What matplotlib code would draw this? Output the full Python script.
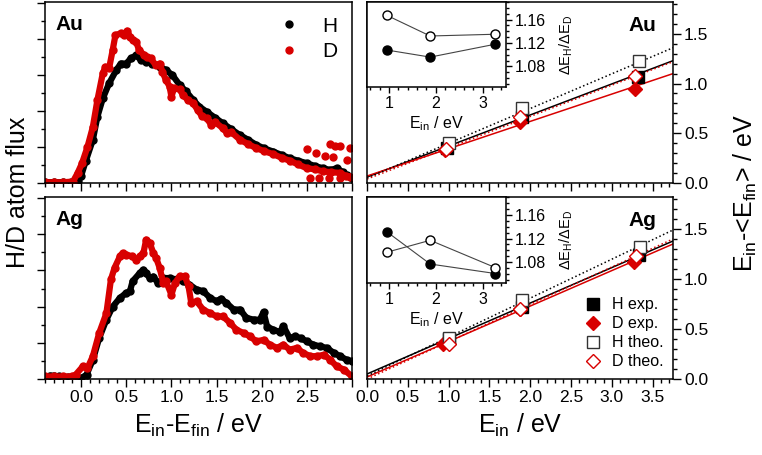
import numpy as np
import matplotlib.pyplot as plt
from matplotlib.ticker import MultipleLocator, FormatStrFormatter
from matplotlib.lines import Line2D

plt.rcParams['font.family'] = ['Liberation Sans', 'DejaVu Sans']
plt.rcParams['mathtext.fontset'] = 'custom'
plt.rcParams['mathtext.rm'] = 'Liberation Sans'
plt.rcParams['mathtext.it'] = 'Liberation Sans:italic'
plt.rcParams['axes.linewidth'] = 1.1

RED = '#d80000'

# ---- energy loss spectra (left) ----
au_h_e = [-0.40, -0.30, -0.20, -0.11, -0.04, 0.00, 0.05, 0.13, 0.18, 0.24, 0.31, 0.39, 0.44, 0.50,
          0.55, 0.61, 0.66, 0.72, 0.79, 0.87, 0.94, 1.01, 1.09, 1.16, 1.24, 1.31, 1.39, 1.48,
          1.57, 1.66, 1.76, 1.85, 1.94, 2.03, 2.13, 2.22, 2.31, 2.40, 2.50, 2.59, 2.68, 2.76,
          2.83, 2.90, 2.94, 3.00]
au_h_v = [0.02, 0.02, 0.02, 0.02, 0.05, 0.20, 0.60, 1.20, 1.84, 2.35, 2.77, 3.14, 3.32, 3.32,
          3.46, 3.55, 3.42, 3.37, 3.32, 3.23, 3.14, 3.00, 2.73, 2.55, 2.31, 2.12, 1.98, 1.82,
          1.66, 1.50, 1.33, 1.20, 1.06, 0.96, 0.87, 0.78, 0.69, 0.62, 0.55, 0.47, 0.41, 0.36,
          0.41, 0.30, 0.22, 0.15]

au_d_e = [-0.40, -0.30, -0.20, -0.09, -0.04, 0.01, 0.07, 0.13, 0.18, 0.24, 0.27, 0.31, 0.35, 0.38,
          0.44, 0.48, 0.51, 0.54, 0.57, 0.61, 0.64, 0.70, 0.73, 0.77, 0.83, 0.87, 0.90, 0.94,
          0.98, 1.00, 1.03, 1.09, 1.13, 1.18, 1.24, 1.29, 1.34, 1.39, 1.44, 1.48, 1.57, 1.62,
          1.66, 1.76, 1.85, 1.94, 2.03, 2.13, 2.22, 2.31, 2.40, 2.50, 2.59, 2.68, 2.77, 2.87,
          2.93, 2.98]
au_d_v = [0.02, 0.02, 0.02, 0.04, 0.27, 0.55, 1.00, 1.56, 2.30, 3.05, 3.23, 3.19, 3.70, 4.11,
          4.16, 4.11, 4.23, 4.07, 3.98, 3.93, 3.70, 3.55, 3.50, 3.46, 3.27, 3.32, 3.09, 2.86,
          2.68, 2.40, 2.64, 2.60, 2.44, 2.31, 2.22, 2.03, 1.85, 1.80, 1.62, 1.70, 1.52, 1.38,
          1.42, 1.20, 1.08, 0.97, 0.88, 0.80, 0.70, 0.62, 0.52, 0.41, 0.38, 0.32, 0.30, 0.28,
          0.20, 0.18]
au_d_out_e = [2.50, 2.60, 2.70, 2.76, 2.79, 2.81, 2.87, 2.94, 2.98, 2.53, 2.63, 2.74, 2.87]
au_d_out_v = [0.94, 0.84, 0.75, 1.07, 0.71, 1.03, 1.03, 0.64, 0.96, 0.13, 0.13, 0.13, 0.13]

ag_h_e = [-0.40, -0.35, -0.30, -0.25, -0.15, -0.05, 0.00, 0.06, 0.13, 0.20, 0.28, 0.35, 0.43, 0.50,
          0.54, 0.57, 0.65, 0.69, 0.72, 0.76, 0.80, 0.85, 0.91, 0.98, 1.06, 1.13, 1.20, 1.28,
          1.35, 1.43, 1.50, 1.55, 1.61, 1.69, 1.76, 1.83, 1.91, 1.98, 2.02, 2.06, 2.13, 2.20,
          2.24, 2.31, 2.37, 2.43, 2.50, 2.57, 2.65, 2.72, 2.80, 2.87, 2.94, 3.00]
ag_h_v = [0.05, 0.09, 0.09, 0.07, 0.05, 0.04, 0.02, 0.12, 0.53, 1.13, 1.64, 2.00, 2.24, 2.38,
          2.42, 2.70, 2.93, 3.02, 2.93, 2.79, 2.83, 2.65, 2.79, 2.79, 2.75, 2.70, 2.61, 2.47,
          2.43, 2.24, 2.15, 2.22, 2.10, 1.92, 1.92, 1.69, 1.64, 1.64, 1.85, 1.45, 1.36, 1.30,
          1.46, 1.13, 1.18, 1.13, 1.04, 0.95, 0.90, 0.86, 0.72, 0.63, 0.53, 0.49]

ag_d_e = [-0.40, -0.30, -0.20, -0.10, -0.06, 0.02, 0.07, 0.13, 0.20, 0.28, 0.33, 0.37, 0.43, 0.46,
          0.50, 0.56, 0.61, 0.65, 0.69, 0.72, 0.76, 0.80, 0.83, 0.87, 0.91, 0.94, 1.00, 1.04,
          1.09, 1.15, 1.19, 1.22, 1.28, 1.35, 1.43, 1.50, 1.57, 1.65, 1.72, 1.80, 1.87, 1.94,
          2.02, 2.09, 2.17, 2.24, 2.31, 2.39, 2.46, 2.54, 2.61, 2.69, 2.76, 2.83, 2.91, 3.00]
ag_d_v = [0.07, 0.07, 0.07, 0.07, 0.12, 0.35, 0.30, 0.63, 1.27, 1.82, 2.75, 3.07, 3.39, 3.48,
          3.44, 3.39, 3.30, 3.39, 3.48, 3.85, 3.76, 3.48, 3.35, 3.07, 2.65, 2.70, 2.33, 2.65,
          2.84, 2.84, 2.56, 2.10, 2.15, 1.92, 1.82, 1.73, 1.73, 1.55, 1.36, 1.27, 1.18, 1.04,
          1.08, 0.95, 0.86, 0.95, 0.81, 0.86, 0.72, 0.63, 0.63, 0.67, 0.53, 0.35, 0.26, 0.07]

# ---- mean energy loss vs incidence energy (right) ----
fit_x = [0.0, 3.75]
au_hexp_x = [0.98, 1.90, 3.32]; au_hexp_y = [0.35, 0.66, 1.07]
au_dexp_x = [0.95, 1.88, 3.28]; au_dexp_y = [0.33, 0.61, 0.95]
au_hth_x = [1.00, 1.90, 3.33];  au_hth_y = [0.40, 0.75, 1.23]
au_dth_x = [0.97, 1.88, 3.28];  au_dth_y = [0.34, 0.66, 1.08]
au_fit_hexp = [0.06, 1.23]; au_fit_dexp = [0.07, 1.10]
au_fit_hth = [0.05, 1.36];  au_fit_dth = [0.04, 1.22]

ag_hexp_x = [1.00, 1.90, 3.33]; ag_hexp_y = [0.40, 0.72, 1.24]
ag_dexp_x = [0.93, 1.88, 3.27]; ag_dexp_y = [0.35, 0.70, 1.17]
ag_hth_x = [1.00, 1.90, 3.35];  ag_hth_y = [0.41, 0.79, 1.32]
ag_dth_x = [1.00, 1.88, 3.30];  ag_dth_y = [0.35, 0.70, 1.23]
ag_fit_hexp = [0.05, 1.38]; ag_fit_dexp = [0.02, 1.35]
ag_fit_hth = [0.03, 1.49];  ag_fit_dth = [0.00, 1.40]

# ---- isotope ratio insets ----
ins_x = [0.96, 1.88, 3.27]
au_ratio_exp = [1.108, 1.096, 1.118]
au_ratio_th = [1.167, 1.132, 1.135]
ag_ratio_exp = [1.131, 1.077, 1.061]
ag_ratio_th = [1.097, 1.117, 1.071]

W, H = 762, 455
fig = plt.figure(figsize=(W / 100, H / 100), dpi=100)


def box(x0, y0, x1, y1):
    return [x0 / W, 1 - y1 / H, (x1 - x0) / W, (y1 - y0) / H]


def style(ax, xmaj, xmin, ymaj, ymin, size=12.5, big=6, small=3):
    ax.xaxis.set_major_locator(MultipleLocator(xmaj))
    ax.xaxis.set_minor_locator(MultipleLocator(xmin))
    ax.yaxis.set_major_locator(MultipleLocator(ymaj))
    ax.yaxis.set_minor_locator(MultipleLocator(ymin))
    ax.tick_params(which='major', direction='out', length=big, width=1.0, labelsize=size, pad=2)
    ax.tick_params(which='minor', direction='out', length=small, width=1.0)


# left panels
ax_au = fig.add_axes(box(45, 2, 352, 183))
ax_ag = fig.add_axes(box(45, 197, 352, 379))
for ax, he, hv, de, dv, name in [(ax_au, au_h_e, au_h_v, au_d_e, au_d_v, 'Au'),
                                 (ax_ag, ag_h_e, ag_h_v, ag_d_e, ag_d_v, 'Ag')]:
    ax.plot(he, hv, '-', color='k', lw=4.5, marker='o', ms=5, solid_joinstyle='round')
    ax.plot(de, dv, '-', color=RED, lw=4.5, marker='o', ms=5, solid_joinstyle='round')
    ax.set_xlim(-0.4, 3.0)
    ax.set_ylim(0, 5.03)
    style(ax, 0.5, 0.1, 1, 0.5)
    ax.set_xticks(np.arange(0, 3.01, 0.5))
    ax.set_xticklabels(['0.0', '0.5', '1.0', '1.5', '2.0', '2.5', ''])
    ax.tick_params(labelleft=False)
    ax.text(0.033, 0.875, name, transform=ax.transAxes, fontsize=15, fontweight='bold',
            ha='left', va='center')
ax_au.plot(au_d_out_e, au_d_out_v, 'o', color=RED, ms=5)
ax_au.tick_params(labelbottom=False)
ax_au.legend([Line2D([], [], marker='o', color='k', ls='none', ms=5),
              Line2D([], [], marker='o', color=RED, ls='none', ms=5)],
             ['H', 'D'], loc='upper right', frameon=False, fontsize=15,
             handletextpad=1.0, labelspacing=0.3, borderaxespad=0.3, handlelength=1.2)
ax_ag.set_xlabel(r'E$_{\rm in}$-E$_{\rm fin}$ / eV', fontsize=18, labelpad=5)

# right panels
ax_rau = fig.add_axes(box(367, 2, 673, 183))
ax_rag = fig.add_axes(box(367, 197, 673, 379))
for ax, d, name in [
        (ax_rau, (au_hexp_x, au_hexp_y, au_dexp_x, au_dexp_y, au_hth_x, au_hth_y, au_dth_x, au_dth_y,
                  au_fit_hexp, au_fit_dexp, au_fit_hth, au_fit_dth), 'Au'),
        (ax_rag, (ag_hexp_x, ag_hexp_y, ag_dexp_x, ag_dexp_y, ag_hth_x, ag_hth_y, ag_dth_x, ag_dth_y,
                  ag_fit_hexp, ag_fit_dexp, ag_fit_hth, ag_fit_dth), 'Ag')]:
    hx, hy, dx, dy, tx, ty, sx, sy, f1, f2, f3, f4 = d
    ax.plot(fit_x, f1, '-', color='k', lw=1.1)
    ax.plot(fit_x, f2, '-', color=RED, lw=1.1)
    ax.plot(fit_x, f3, ':', color='k', lw=1.1)
    ax.plot(fit_x, f4, ':', color=RED, lw=1.1)
    ax.plot(hx, hy, 's', color='k', ms=8.5, ls='none')
    ax.plot(dx, dy, 'D', color=RED, ms=7.5, ls='none')
    ax.plot(tx, ty, 's', mfc='white', mec='#333333', mew=1.0, ms=8.5, ls='none')
    ax.plot(sx, sy, 'D', mfc='white', mec=RED, mew=1.0, ms=7.5, ls='none')
    ax.set_xlim(0, 3.75)
    ax.set_ylim(0, 1.82)
    style(ax, 0.5, 0.1, 0.5, 0.1)
    ax.yaxis.set_major_formatter(FormatStrFormatter('%.1f'))
    ax.xaxis.set_major_formatter(FormatStrFormatter('%.1f'))
    ax.yaxis.tick_right()
    ax.yaxis.set_ticks_position('right')
    ax.text(0.90, 0.87, name, transform=ax.transAxes, fontsize=15, fontweight='bold',
            ha='center', va='center')
ax_rau.tick_params(labelbottom=False)
ax_rag.set_xlabel(r'E$_{\rm in}$ / eV', fontsize=18, labelpad=5)
ax_rag.legend([Line2D([], [], marker='s', color='k', ls='none', ms=8.5),
               Line2D([], [], marker='D', color=RED, ls='none', ms=7.5),
               Line2D([], [], marker='s', mfc='white', mec='#333333', ls='none', ms=8.5),
               Line2D([], [], marker='D', mfc='white', mec=RED, ls='none', ms=7.5)],
              ['H exp.', 'D exp.', 'H theo.', 'D theo.'], loc='lower right', frameon=False,
              fontsize=11.5, handletextpad=0.6, labelspacing=0.25, borderaxespad=0.2,
              handlelength=1.2)

# insets
for (y0, y1), ex, th in [((2, 87), au_ratio_exp, au_ratio_th),
                         ((197, 283), ag_ratio_exp, ag_ratio_th)]:
    ai = fig.add_axes(box(367, y0, 506, y1), zorder=5)
    ai.plot(ins_x, ex, '-o', color='#444444', lw=0.8, mfc='k', mec='k', ms=6.5)
    ai.plot(ins_x, th, '-o', color='#444444', lw=0.8, mfc='white', mec='k', ms=6.5)
    ai.set_xlim(0.53, 3.5)
    ai.set_ylim(1.045, 1.19)
    style(ai, 1, 0.2, 0.04, 0.01, size=11.5, big=4.5, small=2.5)
    ai.yaxis.set_major_formatter(FormatStrFormatter('%.2f'))
    ai.yaxis.tick_right()
    ai.yaxis.set_label_position('right')
    ai.set_ylabel('ΔE$_{\\rm H}$/ΔE$_{\\rm D}$', fontsize=10.5, labelpad=8)
    ai.set_xlabel(r'E$_{\rm in}$ / eV', fontsize=11.5, labelpad=2)

fig.text(18 / W, 1 - 192 / H, 'H/D atom flux', rotation=90, fontsize=18, ha='center', va='center')
fig.text(745 / W, 1 - 193 / H, r'E$_{\rm in}$-<E$_{\rm fin}$> / eV', rotation=90, fontsize=18,
         ha='center', va='center')

fig.savefig('out.png', dpi=100)
